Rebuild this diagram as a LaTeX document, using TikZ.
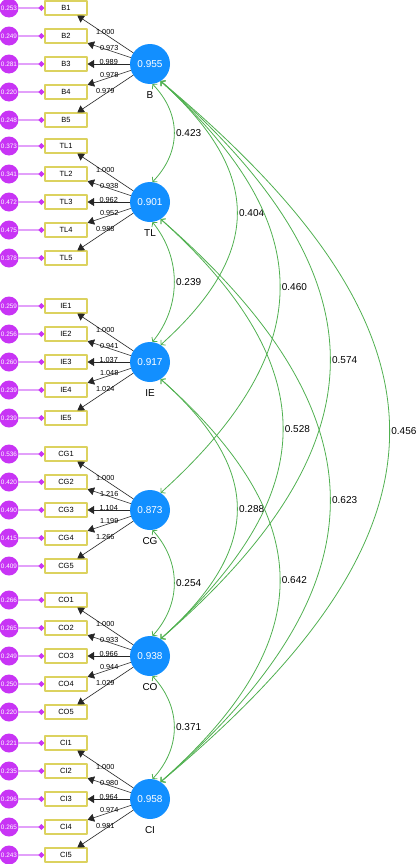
\documentclass[tikz,border=0pt]{standalone}
\usepackage{fontspec}
\setmainfont{Liberation Sans}
\usetikzlibrary{arrows.meta,shapes.geometric}
\definecolor{latblue}{RGB}{18,143,255}
\definecolor{errpurple}{RGB}{200,52,245}
\definecolor{errline}{RGB}{226,160,250}
\definecolor{boxyellow}{RGB}{220,210,95}
\definecolor{covgreen}{RGB}{80,176,80}
\tikzset{
	latent/.style={circle,fill=latblue,minimum size=40bp,inner sep=0pt,text=white,font=\fontsize{10bp}{12bp}\selectfont},
	latlab/.style={text=black,font=\fontsize{10bp}{12bp}\selectfont,inner sep=0pt},
	indic/.style={draw=boxyellow,fill=white,text=black,line width=1.15bp,minimum width=42bp,minimum height=14bp,inner sep=0pt,font=\fontsize{7.5bp}{9bp}\selectfont},
	errc/.style={circle,fill=errpurple,minimum size=19bp,inner sep=0pt,text=white,font=\fontsize{6.4bp}{7bp}\selectfont},
	errl/.style={errline,line width=1.3bp,-{Turned Square[length=6bp,width=6bp,color=errpurple]}},
	load/.style={black!85,line width=0.6bp,-{Triangle[length=6.5bp,width=8bp]}},
	loadlab/.style={midway,yshift=2.5bp,inner sep=0pt,text=black,font=\fontsize{7.3bp}{8bp}\selectfont},
	cov/.style={covgreen,line width=0.8bp,{Straight Barb[length=3bp,width=7bp]}-{Straight Barb[length=3bp,width=7bp]}},
	covlab/.style={midway,right,inner sep=1.5bp,text=black,font=\fontsize{10bp}{12bp}\selectfont}
}
\begin{document}
\begin{tikzpicture}[x=1bp,y=-1bp,line join=round,line cap=round]
	%%Khung hình
	\useasboundingbox (0,0) rectangle (417,864);
	\def \xlat{150}
	\def \xbox{66}
	\def \xerr{9}
	%%Biến tiềm ẩn, biến quan sát và sai số
	\foreach \g/\gy/\gv/\loads/\errs in {
		B/64/0.955/{1.000,0.973,0.989,0.978,0.979}/{0.253,0.249,0.281,0.220,0.248},
		TL/202/0.901/{1.000,0.938,0.962,0.952,0.988}/{0.373,0.341,0.472,0.475,0.378},
		IE/362/0.917/{1.000,0.941,1.037,1.048,1.024}/{0.259,0.256,0.260,0.239,0.239},
		CG/510/0.873/{1.000,1.216,1.104,1.199,1.266}/{0.536,0.420,0.490,0.415,0.409},
		CO/656/0.938/{1.000,0.933,0.966,0.944,1.029}/{0.266,0.265,0.249,0.250,0.220},
		CI/799/0.958/{1.000,0.980,0.964,0.974,0.981}/{0.221,0.235,0.296,0.265,0.243}}{
		\node[latent] (\g) at (\xlat,\gy) {\gv};
		\node[latlab] (lab\g) at (\xlat,\gy+31) {\g};
		\foreach \l [count=\i] in \loads {
			\node[indic] (\g\i) at (\xbox,\gy+28*\i-84) {\g\i};
			\draw[load] (\g) -- (\g\i) node[loadlab] {\l};
		}
		\foreach \e [count=\i] in \errs {
			\node[errc] (e\g\i) at (\xerr,\gy+28*\i-84) {\e};
			\draw[errl] (e\g\i) -- (\g\i);
		}
	}
	%%Hiệp phương sai giữa các biến kề nhau
	\draw[cov] (B.-83) .. controls +(29,30) and +(29,-30) .. (TL.83) node[covlab] {0.423};
	\draw[cov] (TL.-83) .. controls +(29,36) and +(29,-36) .. (IE.83) node[covlab] {0.239};
	\draw[cov] (CG.-83) .. controls +(29,32) and +(29,-32) .. (CO.83) node[covlab] {0.254};
	\draw[cov] (CO.-83) .. controls +(29,31) and +(29,-31) .. (CI.83) node[covlab] {0.371};
	%%Hiệp phương sai giữa các biến xa nhau
	\draw[cov] (B.-58) .. controls +(102,92) and +(102,-92) .. (IE.58) node[covlab] {0.404};
	\draw[cov] (B.-58) .. controls +(159,144) and +(159,-144) .. (CG.58) node[covlab] {0.460};
	\draw[cov] (B.-58) .. controls +(226,196) and +(226,-196) .. (CO.58) node[covlab] {0.574};
	\draw[cov] (B.-58) .. controls +(305,255) and +(305,-255) .. (CI.58) node[covlab] {0.456};
	\draw[cov] (TL.-58) .. controls +(163,147) and +(163,-147) .. (CO.58) node[covlab] {0.528};
	\draw[cov] (TL.-58) .. controls +(226,197) and +(226,-197) .. (CI.58) node[covlab] {0.623};
	\draw[cov] (IE.-58) .. controls +(102,91) and +(102,-91) .. (CO.58) node[covlab] {0.288};
	\draw[cov] (IE.-58) .. controls +(159,141) and +(159,-141) .. (CI.58) node[covlab] {0.642};
\end{tikzpicture}
\end{document}
